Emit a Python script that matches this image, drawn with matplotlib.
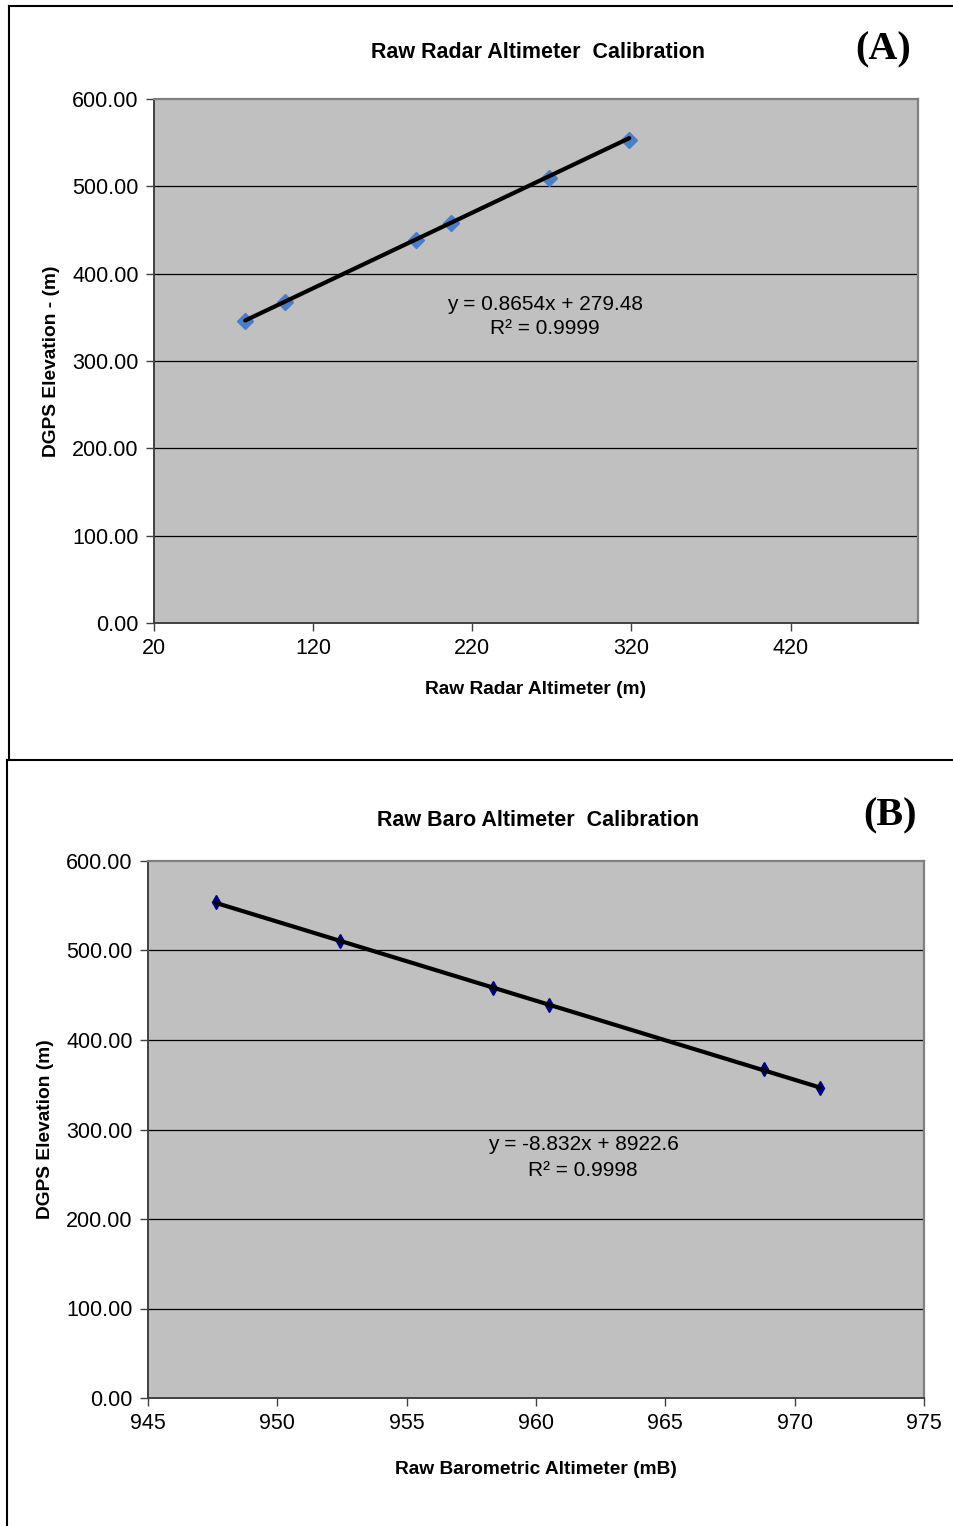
"""Radar and barometric altimeter calibration against DGPS elevation."""

import numpy as np
import matplotlib.pyplot as plt
from matplotlib.lines import Line2D

plt.rcParams["font.family"] = ["Liberation Sans", "DejaVu Sans"]

# ---------- data ----------
radar_raw = [77.3, 102.5, 184.4, 206.5, 268.2, 318.6]
radar_dgps = [346.0, 367.7, 438.7, 458.2, 509.7, 553.3]
radar_fit = [0.8654, 279.48]  # slope, intercept as printed on the chart
radar_eq = ["y = 0.8654x + 279.48", "R² = 0.9999"]

baro_raw = [947.63, 952.42, 958.34, 960.50, 968.81, 970.98]
baro_dgps = [554.2, 510.6, 458.1, 439.1, 367.6, 346.4]
baro_fit = [-8.832, 8922.6]
baro_eq = ["y = -8.832x + 8922.6", "R² = 0.9998"]

radar_xticks = [20, 120, 220, 320, 420]
baro_xticks = [945, 950, 955, 960, 965, 970, 975]
y_ticks = [0, 100, 200, 300, 400, 500, 600]

W, H = 954, 1526
fig = plt.figure(figsize=(W / 100, H / 100), dpi=100)


def fx(px):
    return px / W


def fy(py):
    return 1 - py / H


def calib_panel(rect, x, y, fit, eq, xlim, xticks, marker, mcolor, msize,
                title, xlabel, ylabel, eq_pos, letter, letter_pos, title_pos,
                xlabelpad):
    ax = fig.add_axes(rect)
    ax.set_facecolor("#C0C0C0")
    ax.set_xlim(*xlim)
    ax.set_ylim(0, 600)
    ax.set_xticks(xticks)
    ax.set_yticks(y_ticks)
    ax.set_yticklabels([f"{v:.2f}" for v in y_ticks])
    ax.tick_params(direction="out", length=6, width=1, colors="#404040",
                   labelcolor="black", labelsize=15.5)
    ax.tick_params(axis="x", pad=5)
    ax.tick_params(axis="y", pad=5)
    for v in y_ticks[1:-1]:
        ax.axhline(v, color="black", lw=0.9, zorder=1)
    for side in ["top", "right"]:
        ax.spines[side].set_color("#808080")
        ax.spines[side].set_linewidth(1.6)
    for side in ["left", "bottom"]:
        ax.spines[side].set_color("#404040")
        ax.spines[side].set_linewidth(1.4)

    ax.plot(x, y, linestyle="none", marker=marker, color=mcolor,
            markersize=msize, zorder=3)
    xx = np.array([min(x), max(x)])
    ax.plot(xx, np.polyval(fit, xx), color="black", lw=3, zorder=4,
            solid_capstyle="round")

    fig.text(fx(eq_pos[0]), fy(eq_pos[1]), eq[0], ha="center", va="center",
             fontsize=15)
    fig.text(fx(eq_pos[0]), fy(eq_pos[1] + 25), eq[1],
             ha="center", va="center", fontsize=15)

    fig.text(fx(title_pos[0]), fy(title_pos[1]), title, ha="center",
             va="center", fontsize=15.5, fontweight="bold")
    fig.text(fx(letter_pos[0]), fy(letter_pos[1]), letter, ha="center",
             va="center", fontsize=29, fontweight="bold",
             family="Liberation Serif")
    ax.set_xlabel(xlabel, fontsize=13.8, fontweight="bold", labelpad=xlabelpad)
    ax.set_ylabel(ylabel, fontsize=13.8, fontweight="bold", labelpad=9)
    return ax


# ---------- (A) radar altimeter ----------
calib_panel([fx(154), fy(623), fx(918) - fx(154), fy(99) - fy(623)],
            radar_raw, radar_dgps, radar_fit, radar_eq, (20, 500),
            radar_xticks, "D", "#4A7EC8", 8,
            "Raw Radar Altimeter  Calibration", "Raw Radar Altimeter (m)",
            "DGPS Elevation - (m)", (545, 304), "(A)", (883, 50), (538, 53),
            16)

# ---------- (B) barometric altimeter ----------
calib_panel([fx(148), fy(1398), fx(924) - fx(148), fy(861) - fy(1398)],
            baro_raw, baro_dgps, baro_fit, baro_eq, (945, 975),
            baro_xticks, "d", "#000080", 7,
            "Raw Baro Altimeter  Calibration", "Raw Barometric Altimeter (mB)",
            "DGPS Elevation (m)", (583, 1145), "(B)", (890, 816), (538, 820),
            19)

# panel frames
frame = dict(color="black", lw=1.5, transform=fig.transFigure)
fig.add_artist(Line2D([fx(9.5), fx(9.5)], [fy(6), fy(760)], **frame))
fig.add_artist(Line2D([fx(9.5), 1], [fy(6), fy(6)], **frame))
fig.add_artist(Line2D([fx(7.5), 1], [fy(760), fy(760)], **frame))
fig.add_artist(Line2D([fx(7.5), fx(7.5)], [fy(760), 0], **frame))

fig.savefig("out.png", dpi=100)
